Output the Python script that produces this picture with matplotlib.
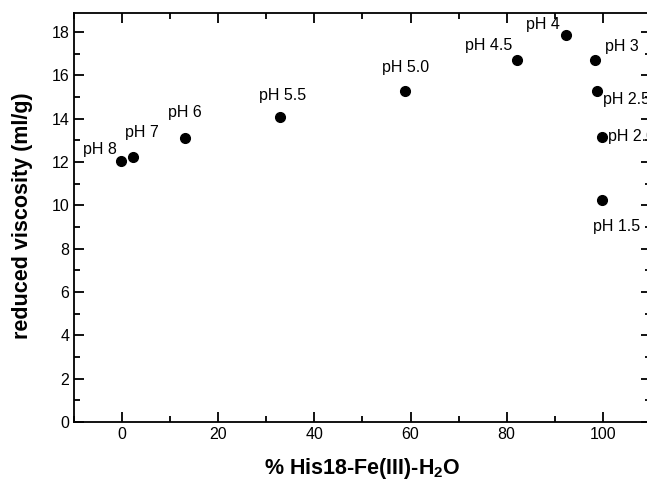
import matplotlib
matplotlib.use('Agg')
import matplotlib.pyplot as plt
from matplotlib.ticker import MultipleLocator

plt.rcParams['font.family'] = ['Liberation Sans', 'DejaVu Sans']
plt.rcParams['mathtext.fontset'] = 'custom'
plt.rcParams['mathtext.rm'] = 'Liberation Sans'
plt.rcParams['mathtext.bf'] = 'Liberation Sans:bold'

# data
labels = ['pH 8', 'pH 7', 'pH 6', 'pH 5.5', 'pH 5.0', 'pH 4.5', 'pH 4',
          'pH 3', 'pH 2.5', 'pH 2.0', 'pH 1.5']
pct_his = [-0.2, 2.2, 13.0, 32.9, 58.9, 82.1, 92.4, 98.4, 98.8, 99.8, 99.8]
viscosity = [12.03, 12.25, 13.12, 14.09, 15.3, 16.7, 17.88, 16.7, 15.26, 13.16, 10.26]

# label placement (pixel offsets, ha)
label_pos = [(-21, 12, 'center'), (9, 24, 'center'), (0, 25, 'center'),
             (2, 21, 'center'), (0, 23, 'center'), (-28, 15, 'center'),
             (-23, 10, 'center'), (27, 14, 'center'), (6, -8, 'left'),
             (6, 0, 'left'), (15, -27, 'center')]

fig = plt.figure(figsize=(6.47, 4.87), dpi=100)
ax = fig.add_axes([0.1144, 0.1335, 1.006 - 0.1144, 0.974 - 0.1335])

ax.plot(pct_his, viscosity, 'o', color='black', markersize=7, clip_on=False)
for xv, yv, lab, (dx, dy, ha) in zip(pct_his, viscosity, labels, label_pos):
    ax.annotate(lab, (xv, yv), xytext=(dx, dy), textcoords='offset pixels',
                ha=ha, va='center', fontsize=11.5)

ax.set_xlim(-10, 110)
ax.set_ylim(0, 18.9)
ax.xaxis.set_major_locator(MultipleLocator(20))
ax.xaxis.set_minor_locator(MultipleLocator(10))
ax.yaxis.set_major_locator(MultipleLocator(2))
ax.yaxis.set_minor_locator(MultipleLocator(1))
ax.tick_params(which='both', direction='in', top=True, right=True,
               labelsize=11.5, width=1.3)
ax.tick_params(which='major', length=7)
ax.tick_params(which='minor', length=4)
ax.set_xticks([0, 20, 40, 60, 80, 100])
for s in ax.spines.values():
    s.set_linewidth(1.3)

fig.text(0.56, 0.037, '% His18-Fe(III)-H$_\\mathbf{2}$O', ha='center', va='center',
         fontsize=15.5, fontweight='bold')
fig.text(0.035, 0.558, 'reduced viscosity (ml/g)', ha='center', va='center',
         rotation=90, fontsize=15.5, fontweight='bold')

fig.savefig('out.png', dpi=100)
